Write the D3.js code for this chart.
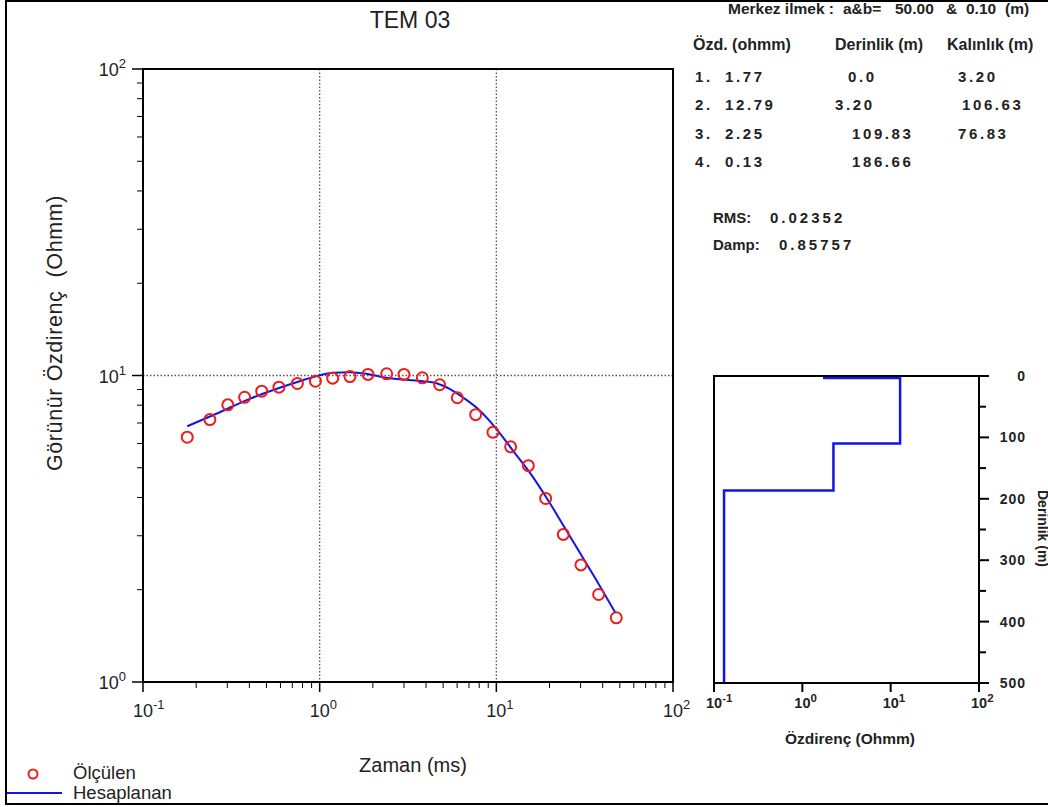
<!DOCTYPE html>
<html>
<head>
<meta charset="utf-8">
<script src="https://cdn.jsdelivr.net/npm/d3@7"></script>
<style>
  body { margin: 0; background: #fff; }
  svg { display: block; font-family: "Liberation Sans", Arial, sans-serif; }
</style>
</head>
<body>
<div id="chart"></div>
<script>
// Measured apparent resistivity (red circles)
const measTime = [0.178, 0.239, 0.302, 0.376, 0.470, 0.588, 0.748, 0.946, 1.185, 1.484, 1.877, 2.394, 3.000,
  3.813, 4.777, 6.017, 7.636, 9.568, 12.05, 15.18, 19.01, 23.94, 30.12, 37.93, 47.75];
const measRho = [6.29, 7.18, 8.02, 8.49, 8.89, 9.16, 9.42, 9.58, 9.80, 9.92, 10.08, 10.13, 10.08,
  9.83, 9.33, 8.46, 7.45, 6.53, 5.85, 5.08, 3.97, 3.03, 2.41, 1.93, 1.62];

// Calculated curve (blue line)
const calcTime = [0.178, 0.260, 0.402, 0.594, 0.771, 1.0, 1.189, 1.478, 1.838, 2.282, 2.961, 3.842, 4.576,
  5.44, 6.47, 8.05, 10.0, 12.42, 15.44, 19.19, 23.82, 29.6, 36.8, 47.3];
const calcRho = [6.83, 7.50, 8.39, 9.12, 9.58, 10.02, 10.2, 10.25, 10.13, 9.87, 9.70, 9.58, 9.44,
  9.05, 8.48, 7.69, 6.70, 5.69, 4.83, 4.0, 3.26, 2.65, 2.15, 1.68];

// Layered model
const layerRho = [1.77, 12.79, 2.25, 0.13];
const layerDepth = [0.0, 3.20, 109.83, 186.66];
const layerThick = [3.20, 106.63, 76.83];
const modelMaxDepth = 500;

const decadeTicks = [0.1, 1, 10, 100];
const rhoTicks = [1, 10, 100];
const depthTicks = [0, 100, 200, 300, 400, 500];

const loopA = "50.00";
const loopB = "0.10";
const rms = "0.02352";
const damp = "0.85757";

const W = 1048, H = 807;
const svg = d3.select('#chart').append('svg').attr('width', W).attr('height', H);

// outer frame
svg.append('rect').attr('x', 6).attr('y', 1).attr('width', 1060).attr('height', 803)
  .attr('fill', 'none').attr('stroke', '#000').attr('stroke-width', 2);

// ---------- main chart ----------
const main = { left: 143, right: 673, top: 69, bottom: 682 };
const x = d3.scaleLog().domain([0.1, 100]).range([main.left, main.right]);
const y = d3.scaleLog().domain([1, 100]).range([main.bottom, main.top]);

const g = svg.append('g');

// minor ticks
const minorX = [];
for (let e = -1; e < 2; e++) for (let m = 2; m <= 9; m++) minorX.push(m * Math.pow(10, e));
const minorY = [];
for (let e = 0; e < 2; e++) for (let m = 2; m <= 9; m++) minorY.push(m * Math.pow(10, e));

// grid (dotted)
g.selectAll('.vgrid').data([1, 10]).enter().append('line')
  .attr('x1', d => x(d)).attr('x2', d => x(d))
  .attr('y1', main.top).attr('y2', main.bottom)
  .attr('stroke', '#555').attr('stroke-width', 1.3).attr('stroke-dasharray', '1.5,2');
g.selectAll('.hgrid').data([10]).enter().append('line')
  .attr('x1', main.left).attr('x2', main.right)
  .attr('y1', d => y(d)).attr('y2', d => y(d))
  .attr('stroke', '#555').attr('stroke-width', 1.3).attr('stroke-dasharray', '1.5,2');

// bottom ticks
g.selectAll('.xmaj').data(decadeTicks).enter().append('line')
  .attr('x1', d => x(d)).attr('x2', d => x(d))
  .attr('y1', main.bottom).attr('y2', main.bottom + 10)
  .attr('stroke', '#000').attr('stroke-width', 1.5);
g.selectAll('.xmin').data(minorX).enter().append('line')
  .attr('x1', d => x(d)).attr('x2', d => x(d))
  .attr('y1', main.bottom).attr('y2', main.bottom + 6)
  .attr('stroke', '#000').attr('stroke-width', 1);
// left ticks
g.selectAll('.ymaj').data(rhoTicks).enter().append('line')
  .attr('x1', main.left - 11).attr('x2', main.left)
  .attr('y1', d => y(d)).attr('y2', d => y(d))
  .attr('stroke', '#000').attr('stroke-width', 1.5);
g.selectAll('.ymin').data(minorY).enter().append('line')
  .attr('x1', main.left - 6).attr('x2', main.left)
  .attr('y1', d => y(d)).attr('y2', d => y(d))
  .attr('stroke', '#000').attr('stroke-width', 1);

// frame
g.append('rect').attr('x', main.left).attr('y', main.top)
  .attr('width', main.right - main.left).attr('height', main.bottom - main.top)
  .attr('fill', 'none').attr('stroke', '#000').attr('stroke-width', 2);

function powLabel(sel, d, sup, dy) {
  const e = Math.round(Math.log10(d));
  sel.append('tspan').text('10');
  sel.append('tspan').attr('dy', dy).attr('font-size', sup).text(e);
}

g.selectAll('.xlab').data(decadeTicks).enter().append('text')
  .attr('x', d => x(d) - 10).attr('y', main.bottom + 35)
  .attr('font-size', 18).attr('fill', '#222')
  .each(function (d) { powLabel(d3.select(this), d, 13, -8); });
g.selectAll('.ylab').data(rhoTicks).enter().append('text')
  .attr('x', main.left - 17).attr('y', d => y(d) + 7)
  .attr('text-anchor', 'end')
  .attr('font-size', 18).attr('fill', '#222')
  .each(function (d) { powLabel(d3.select(this), d, 13, -8); });

// calculated line
const line = d3.line().x(d => x(d[0])).y(d => y(d[1])).curve(d3.curveMonotoneX);
g.append('path').datum(calcTime.map((t, i) => [t, calcRho[i]]))
  .attr('d', line).attr('fill', 'none').attr('stroke', '#1414e6').attr('stroke-width', 2);

// measured points
g.selectAll('.pt').data(measTime.map((t, i) => [t, measRho[i]])).enter().append('circle')
  .attr('cx', d => x(d[0])).attr('cy', d => y(d[1])).attr('r', 5.5)
  .attr('fill', 'none').attr('stroke', '#ee1c1c').attr('stroke-width', 2);

// titles
svg.append('text').attr('x', 410).attr('y', 28).attr('text-anchor', 'middle')
  .attr('font-size', 23).attr('fill', '#222').text('TEM 03');
svg.append('text').attr('x', 413).attr('y', 772).attr('text-anchor', 'middle')
  .attr('font-size', 20).attr('fill', '#222').text('Zaman (ms)');
svg.append('text').attr('transform', 'translate(62,333) rotate(-90)').attr('text-anchor', 'middle')
  .attr('font-size', 21.5).attr('letter-spacing', 0.6).attr('fill', '#222').attr('xml:space', 'preserve')
  .text('Görünür Özdirenç  (Ohmm)');

// legend
svg.append('circle').attr('cx', 33).attr('cy', 774).attr('r', 4.5)
  .attr('fill', 'none').attr('stroke', '#ee1c1c').attr('stroke-width', 2);
svg.append('line').attr('x1', 7).attr('x2', 62).attr('y1', 793).attr('y2', 793)
  .attr('stroke', '#1414e6').attr('stroke-width', 2);
svg.append('text').attr('x', 73).attr('y', 779).attr('font-size', 18.5).attr('fill', '#222').text('Ölçülen');
svg.append('text').attr('x', 73).attr('y', 799).attr('font-size', 18.5).attr('fill', '#222').text('Hesaplanan');

// ---------- text block ----------
const tb = svg.append('g').attr('font-weight', 'bold').attr('fill', '#222');
const mk = tb.append('text').attr('y', 14).attr('font-size', 15.5);
mk.append('tspan').attr('x', 728).text('Merkez ilmek :');
mk.append('tspan').attr('x', 843).text('a&b=');
mk.append('tspan').attr('x', 895).text(loopA);
mk.append('tspan').attr('x', 946).text('&');
mk.append('tspan').attr('x', 966).text(loopB);
mk.append('tspan').attr('x', 1005).text('(m)');

const headers = ['Özd. (ohmm)', 'Derinlik (m)', 'Kalınlık (m)'];
const headerX = [693, 835, 947];
headers.forEach((h, i) => tb.append('text').attr('x', headerX[i]).attr('y', 50).attr('font-size', 16).text(h));

const rowY = [82, 110, 139, 167];
const depthX = [848, 835, 852, 852];
const thickX = [958, 962, 958];
layerRho.forEach((r, i) => {
  const t = tb.append('g').attr('font-size', 15).attr('letter-spacing', 2.6);
  t.append('text').attr('x', 695).attr('y', rowY[i]).text((i + 1) + '.');
  t.append('text').attr('x', 725).attr('y', rowY[i]).text(r.toFixed(2));
  t.append('text').attr('x', depthX[i]).attr('y', rowY[i]).text(i === 0 ? layerDepth[i].toFixed(1) : layerDepth[i].toFixed(2));
  if (i < layerThick.length)
    t.append('text').attr('x', thickX[i]).attr('y', rowY[i]).text(layerThick[i].toFixed(2));
});
[['RMS:', rms, 223, 770], ['Damp:', damp, 250, 779]].forEach(([k, v, yy, vx]) => {
  tb.append('text').attr('x', 713).attr('y', yy).attr('font-size', 15).text(k);
  tb.append('text').attr('x', vx).attr('y', yy).attr('font-size', 15).attr('letter-spacing', 3).text(v);
});

// ---------- model inset ----------
const ins = { left: 714, right: 979, top: 376, bottom: 683 };
const ix = d3.scaleLog().domain([0.1, 100]).range([ins.left, ins.right]);
const iy = d3.scaleLinear().domain([0, modelMaxDepth]).range([ins.top, ins.bottom]);
const ig = svg.append('g');

ig.selectAll('.ixt').data(decadeTicks).enter().append('line')
  .attr('x1', d => ix(d)).attr('x2', d => ix(d))
  .attr('y1', ins.bottom).attr('y2', ins.bottom + 9)
  .attr('stroke', '#000').attr('stroke-width', 2);
const depthMinor = d3.range(50, modelMaxDepth, 100);
ig.selectAll('.iyt').data(depthTicks).enter().append('line')
  .attr('x1', ins.right).attr('x2', ins.right + 10)
  .attr('y1', d => iy(d)).attr('y2', d => iy(d))
  .attr('stroke', '#000').attr('stroke-width', 2);
ig.selectAll('.iym').data(depthMinor).enter().append('line')
  .attr('x1', ins.right).attr('x2', ins.right + 7)
  .attr('y1', d => iy(d)).attr('y2', d => iy(d))
  .attr('stroke', '#000').attr('stroke-width', 2);

// model step line
const steps = [];
layerRho.forEach((r, i) => {
  const top = layerDepth[i];
  const bot = i + 1 < layerDepth.length ? layerDepth[i + 1] : modelMaxDepth;
  steps.push([r, top], [r, bot]);
});
ig.append('path').datum(steps)
  .attr('d', d3.line().x(d => ix(d[0])).y(d => iy(d[1])))
  .attr('fill', 'none').attr('stroke', '#1414e6').attr('stroke-width', 2.5);

ig.append('rect').attr('x', ins.left).attr('y', ins.top)
  .attr('width', ins.right - ins.left).attr('height', ins.bottom - ins.top)
  .attr('fill', 'none').attr('stroke', '#000').attr('stroke-width', 2);

ig.selectAll('.ixl').data(decadeTicks).enter().append('text')
  .attr('x', d => ix(d) - 8).attr('y', ins.bottom + 25)
  .attr('font-size', 14.5).attr('font-weight', 'bold').attr('fill', '#222')
  .each(function (d) { powLabel(d3.select(this), d, 11.5, -6); });
ig.selectAll('.iyl').data(depthTicks).enter().append('text')
  .attr('x', 1026).attr('y', d => iy(d) + 5).attr('text-anchor', 'end')
  .attr('font-size', 14).attr('font-weight', 'bold').attr('fill', '#222')
  .attr('letter-spacing', 1).text(d => d);

ig.append('text').attr('x', 850).attr('y', 744).attr('text-anchor', 'middle')
  .attr('font-size', 15.5).attr('font-weight', 'bold').attr('fill', '#222').text('Özdirenç (Ohmm)');
ig.append('text').attr('transform', 'translate(1038,490) rotate(90)')
  .attr('font-size', 14).attr('font-weight', 'bold').attr('fill', '#222').text('Derinlik (m)');
</script>
</body>
</html>
